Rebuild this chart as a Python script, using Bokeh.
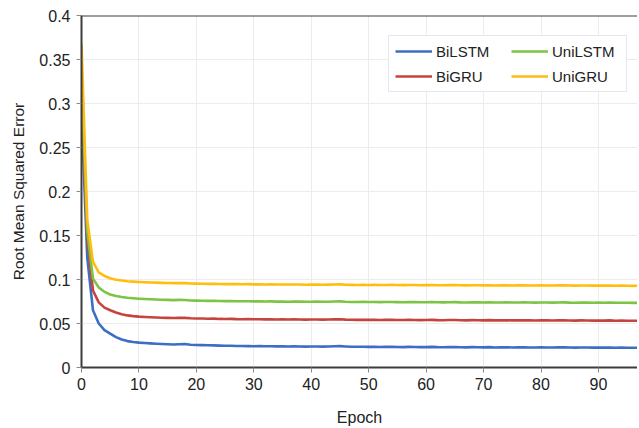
from bokeh.plotting import figure
from bokeh.models import Range1d, FixedTicker, Legend, LegendItem, Span
from bokeh.embed import file_html
from bokeh.resources import INLINE

epochs = list(range(100))

bilstm = [0.290, 0.125, 0.065, 0.050, 0.0425, 0.0385, 0.0345, 0.0318, 0.0300, 0.0290,
          0.0283, 0.0278, 0.0274, 0.0270, 0.0267, 0.0264, 0.0262, 0.0265, 0.0267, 0.0259,
          0.0256, 0.0254, 0.0252, 0.0251, 0.0249, 0.0248, 0.0247, 0.0245, 0.0244, 0.0243,
          0.0242, 0.0243, 0.0241, 0.0242, 0.0240, 0.0241, 0.0239, 0.0240, 0.0238, 0.0237,
          0.0238, 0.0239, 0.0237, 0.0238, 0.0241, 0.0243, 0.0239, 0.0236, 0.0235, 0.0236,
          0.0234, 0.0235, 0.0233, 0.0234, 0.0235, 0.0233, 0.0232, 0.0234, 0.0233, 0.0231,
          0.0232, 0.0234, 0.0231, 0.0230, 0.0232, 0.0233, 0.0230, 0.0229, 0.0231, 0.0230,
          0.0229, 0.0231, 0.0228, 0.0229, 0.0230, 0.0228, 0.0229, 0.0230, 0.0228, 0.0227,
          0.0229, 0.0228, 0.0227, 0.0229, 0.0230, 0.0227, 0.0226, 0.0228, 0.0227, 0.0226,
          0.0227, 0.0226, 0.0228, 0.0225, 0.0226, 0.0225, 0.0224, 0.0225, 0.0224, 0.0223]

bigru = [0.310, 0.145, 0.0875, 0.074, 0.068, 0.065, 0.0625, 0.0605, 0.0592, 0.0584,
         0.0578, 0.0574, 0.0571, 0.0568, 0.0566, 0.0564, 0.0563, 0.0566, 0.0564, 0.0559,
         0.0557, 0.0556, 0.0554, 0.0555, 0.0552, 0.0551, 0.0553, 0.0550, 0.0549, 0.0550,
         0.0548, 0.0549, 0.0547, 0.0548, 0.0546, 0.0547, 0.0545, 0.0547, 0.0546, 0.0544,
         0.0545, 0.0546, 0.0544, 0.0545, 0.0547, 0.0548, 0.0544, 0.0542, 0.0541, 0.0543,
         0.0541, 0.0542, 0.0540, 0.0541, 0.0542, 0.0540, 0.0539, 0.0541, 0.0540, 0.0538,
         0.0539, 0.0541, 0.0538, 0.0537, 0.0539, 0.0540, 0.0537, 0.0536, 0.0538, 0.0537,
         0.0536, 0.0538, 0.0535, 0.0536, 0.0537, 0.0535, 0.0536, 0.0537, 0.0535, 0.0534,
         0.0536, 0.0535, 0.0534, 0.0536, 0.0537, 0.0534, 0.0533, 0.0535, 0.0534, 0.0533,
         0.0534, 0.0533, 0.0535, 0.0532, 0.0533, 0.0532, 0.0531, 0.0532, 0.0531, 0.0530]

unilstm = [0.330, 0.155, 0.101, 0.091, 0.086, 0.083, 0.0812, 0.0801, 0.0793, 0.0787,
           0.0782, 0.0778, 0.0775, 0.0772, 0.0770, 0.0768, 0.0766, 0.0769, 0.0767, 0.0762,
           0.0760, 0.0758, 0.0757, 0.0758, 0.0755, 0.0754, 0.0756, 0.0753, 0.0752, 0.0753,
           0.0751, 0.0752, 0.0750, 0.0751, 0.0749, 0.0750, 0.0748, 0.0750, 0.0749, 0.0747,
           0.0748, 0.0749, 0.0747, 0.0748, 0.0750, 0.0751, 0.0747, 0.0745, 0.0744, 0.0746,
           0.0744, 0.0745, 0.0743, 0.0744, 0.0745, 0.0743, 0.0742, 0.0744, 0.0743, 0.0741,
           0.0742, 0.0744, 0.0741, 0.0740, 0.0742, 0.0743, 0.0740, 0.0739, 0.0741, 0.0740,
           0.0739, 0.0741, 0.0738, 0.0739, 0.0740, 0.0738, 0.0739, 0.0740, 0.0738, 0.0737,
           0.0739, 0.0738, 0.0737, 0.0739, 0.0740, 0.0737, 0.0736, 0.0738, 0.0737, 0.0736,
           0.0737, 0.0736, 0.0738, 0.0735, 0.0736, 0.0735, 0.0734, 0.0735, 0.0734, 0.0733]

unigru = [0.368, 0.168, 0.120, 0.108, 0.104, 0.1015, 0.0998, 0.0988, 0.0981, 0.0976,
          0.0972, 0.0969, 0.0966, 0.0964, 0.0962, 0.0960, 0.0959, 0.0961, 0.0959, 0.0955,
          0.0953, 0.0952, 0.0950, 0.0951, 0.0949, 0.0948, 0.0949, 0.0947, 0.0946, 0.0947,
          0.0945, 0.0946, 0.0944, 0.0945, 0.0943, 0.0944, 0.0943, 0.0944, 0.0943, 0.0941,
          0.0942, 0.0943, 0.0941, 0.0942, 0.0944, 0.0945, 0.0941, 0.0939, 0.0938, 0.0940,
          0.0938, 0.0939, 0.0937, 0.0938, 0.0939, 0.0937, 0.0936, 0.0938, 0.0937, 0.0935,
          0.0936, 0.0938, 0.0935, 0.0934, 0.0936, 0.0937, 0.0934, 0.0933, 0.0935, 0.0934,
          0.0933, 0.0935, 0.0932, 0.0933, 0.0934, 0.0932, 0.0933, 0.0934, 0.0932, 0.0931,
          0.0933, 0.0932, 0.0931, 0.0933, 0.0934, 0.0931, 0.0930, 0.0932, 0.0931, 0.0930,
          0.0931, 0.0930, 0.0932, 0.0929, 0.0930, 0.0929, 0.0928, 0.0929, 0.0928, 0.0927]

x_ticks = [0, 10, 20, 30, 40, 50, 60, 70, 80, 90]
y_ticks = [0, 0.05, 0.1, 0.15, 0.2, 0.25, 0.3, 0.35, 0.4]
y_tick_labels = ["0", "0.05", "0.1", "0.15", "0.2", "0.25", "0.3", "0.35", "0.4"]

FONT = "Liberation Sans"

p = figure(output_backend="svg", toolbar_location=None,
           x_range=Range1d(0, 96.8), y_range=Range1d(0, 0.4),
           frame_width=556, frame_height=352,
           min_border_left=81, min_border_right=0, min_border_top=15, min_border_bottom=59,
           background_fill_color="white", border_fill_color="white")
p.outline_line_color = None

p.xaxis.ticker = FixedTicker(ticks=x_ticks)
p.yaxis.ticker = FixedTicker(ticks=y_ticks)
p.yaxis.major_label_overrides = {t: l for t, l in zip(y_ticks, y_tick_labels)}

for ax in (p.xaxis, p.yaxis):
    ax.axis_line_color = "#3c3c3c"
    ax.axis_line_width = 2
    ax.major_tick_line_color = "#8a8a8a"
    ax.major_tick_out = 5
    ax.major_tick_in = 0
    ax.minor_tick_line_color = None
    ax.major_label_text_font = FONT
    ax.major_label_text_font_size = "16px"
    ax.major_label_text_color = "#222222"
    ax.axis_label_text_font = FONT
    ax.axis_label_text_font_style = "normal"
    ax.axis_label_text_color = "#222222"

p.xaxis.axis_label = "Epoch"
p.yaxis.axis_label = "Root Mean Squared Error"
p.xaxis.axis_label_text_font_size = "16px"
p.yaxis.axis_label_text_font_size = "15.5px"
p.xaxis.major_label_standoff = 5
p.yaxis.major_label_standoff = 6
p.xaxis.axis_label_standoff = 16
p.yaxis.axis_label_standoff = 9

p.xgrid.grid_line_color = "#ececec"
p.ygrid.grid_line_color = "#ececec"
p.xgrid.grid_line_width = 1
p.ygrid.grid_line_width = 1

top = Span(location=0.4, dimension="width", line_color="#3c3c3c", line_width=2)
p.add_layout(top)

series = [("BiLSTM", bilstm, "#3d6ec5"), ("BiGRU", bigru, "#c6443f"),
          ("UniLSTM", unilstm, "#7cc443"), ("UniGRU", unigru, "#ffbd0e")]
rends = {}
for name, vals, col in series:
    rends[name] = p.line(epochs, vals, line_color=col, line_width=2.6, line_join="round")

leg = Legend(items=[LegendItem(label=n, renderers=[rends[n]])
                    for n in ["BiLSTM", "BiGRU", "UniLSTM", "UniGRU"]],
             location=(307, 275), orientation="vertical", ncols=2)
leg.margin = 0
leg.padding = 6
leg.spacing = 7
leg.glyph_width = 37
leg.glyph_height = 18
leg.label_height = 18
leg.label_standoff = 4
leg.label_width = 68
leg.label_text_font = FONT
leg.label_text_font_size = "15px"
leg.label_text_color = "#222222"
leg.label_text_baseline = "middle"
leg.border_line_color = "#c9d0e3"
leg.border_line_width = 1
leg.background_fill_color = "white"
leg.background_fill_alpha = 1
p.add_layout(leg)

open("out.html", "w").write(file_html(p, INLINE))
